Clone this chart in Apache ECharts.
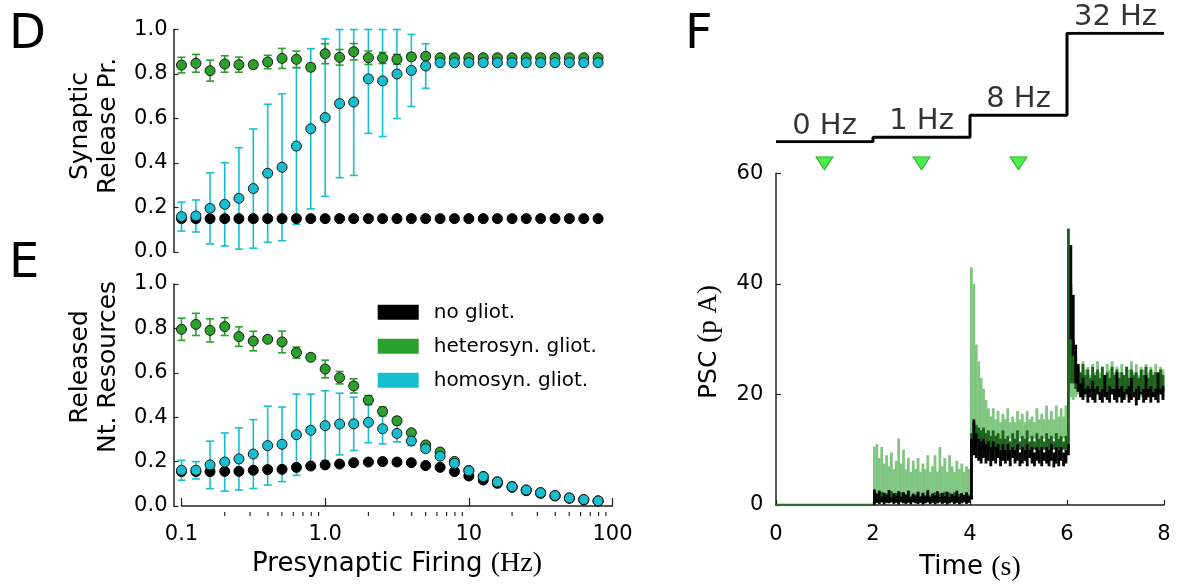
<!DOCTYPE html>
<html><head><meta charset="utf-8">
<script src="https://cdn.jsdelivr.net/npm/echarts@6/dist/echarts.min.js"></script>
<style>html,body{margin:0;padding:0;background:#fff}#c{width:1179px;height:584px}</style>
</head><body><div id="c"></div>
<script>
// ---------- Panels D & E : values vs presynaptic firing rate ----------
const rates = [0.1,0.126,0.158,0.2,0.251,0.316,0.398,0.501,0.631,0.794,1.0,1.26,1.58,2.0,2.51,3.16,3.98,5.01,6.31,7.94,10,12.6,15.8,20,25.1,31.6,39.8,50.1,63.1,79.4];
const seriesNames = ['no gliot.','heterosyn. gliot.','homosyn. gliot.'];

const relPrNone = [0.15,0.15,0.15,0.15,0.15,0.15,0.15,0.15,0.15,0.15,0.15,0.15,0.15,0.15,0.15,0.15,0.15,0.15,0.15,0.15,0.15,0.15,0.15,0.15,0.15,0.15,0.15,0.15,0.15,0.15];
const relPrHetero = [0.840,0.848,0.815,0.845,0.842,0.842,0.854,0.870,0.866,0.830,0.891,0.875,0.900,0.873,0.872,0.866,0.877,0.880,0.873,0.873,0.873,0.873,0.873,0.873,0.873,0.873,0.873,0.873,0.873,0.873];
const relPrHeteroErr = [0.035,0.04,0.047,0.037,0.034,0.015,0.03,0.045,0.037,0.015,0.045,0.035,0.037,0.03,0.025,0.022,0.015,0.012,0.008,0.006,0.005,0.005,0.004,0.004,0.004,0.003,0.003,0.003,0.003,0.003];
const relPrHomo = [0.159,0.162,0.196,0.214,0.241,0.285,0.354,0.381,0.476,0.554,0.604,0.667,0.674,0.778,0.769,0.800,0.816,0.836,0.851,0.851,0.851,0.851,0.851,0.851,0.851,0.851,0.851,0.851,0.851,0.851];
const relPrHomoErr = [0.065,0.072,0.16,0.187,0.228,0.268,0.31,0.33,0.352,0.36,0.354,0.333,0.33,0.245,0.25,0.2,0.162,0.1,0.01,0.006,0.005,0.005,0.004,0.004,0.004,0.003,0.003,0.003,0.003,0.003];

const ntNone = [0.155,0.155,0.155,0.156,0.156,0.161,0.164,0.165,0.174,0.180,0.185,0.189,0.195,0.198,0.200,0.198,0.195,0.182,0.174,0.155,0.135,0.117,0.102,0.084,0.069,0.057,0.045,0.035,0.027,0.022];
const ntHetero = [0.796,0.818,0.791,0.808,0.763,0.743,0.751,0.739,0.691,0.670,0.617,0.578,0.541,0.477,0.426,0.384,0.330,0.275,0.243,0.201,0.160,0.133,0.109,0.088,0.072,0.060,0.047,0.036,0.029,0.023];
const ntHeteroErr = [0.05,0.05,0.052,0.04,0.044,0.044,0.01,0.049,0.025,0.015,0.04,0.028,0.032,0.02,0.02,0.015,0.01,0.008,0.006,0.005,0.004,0.003,0.003,0.003,0.003,0.003,0.003,0.003,0.003,0.003];
const ntHomo = [0.161,0.161,0.185,0.198,0.212,0.234,0.272,0.278,0.321,0.341,0.362,0.369,0.370,0.377,0.348,0.327,0.293,0.258,0.224,0.192,0.159,0.132,0.108,0.087,0.072,0.060,0.047,0.036,0.029,0.023];
const ntHomoErr = [0.045,0.039,0.107,0.131,0.14,0.155,0.178,0.168,0.183,0.163,0.157,0.139,0.12,0.092,0.068,0.038,0.02,0.012,0.008,0.005,0.004,0.003,0.003,0.003,0.003,0.003,0.003,0.003,0.003,0.003];

const rateTickLabels = ['0.1','1.0','10','100'];
const minorRateTicks = [0.2,0.3,0.4,0.5,0.6,0.7,0.8,0.9,2,3,4,5,6,7,8,9,20,30,40,50,60,70,80,90];
const fracTickLabels = ['0.0','0.2','0.4','0.6','0.8','1.0'];

// ---------- Panel F : PSC traces ----------
const timeTickLabels = ['0','2','4','6','8'];
const pscTickLabels = ['0','20','40','60'];
const traceStart = 2, traceStep = 0.05;
const baselineTimes = [0, 2];
const baselineValues = [0, 0];

const lightHi = [10.5,11,8.5,10.5,7.5,9,7,9.5,6.5,8,12,7.5,10,6.5,8.5,6,8,6.5,8.5,6,7.5,6.5,9,6,7,9,6,10.5,7,8.5,6,9,7,6,8,6.5,7.5,6,7,6.5,
 43,40,29,26,23,21,19,17.5,16,17.5,15.5,17,15,16.5,15.5,17.5,15,16,15,17,15.5,16.5,15,17,15.5,16,15,17.5,15.5,16.5,15.5,18,15.5,17,15.5,18,16,17.5,16,18,
 49,30,25,24,25.5,24,26,24.5,25,23.5,25.5,24,26,24,25,23.5,25.5,24.5,26,24,25,24,25.5,23.5,25,24.5,26,24,25.5,23.5,25,24.5,25.5,24,25,24,25.5,23.5,25,24.5];
const lightLo = [0,1,1,1,1,1,1,1,1,1,1,1,1,1,1,1,1,1,1,1,1,1,1,1,1,1,1,1,1,1,1,1,1,1,1,1,1,1,1,1,
 5,12,12,12,12,12,12,12,12,12,12,12,12,12,12,12,12,12,12,12,12,12,12,12,12,12,12,12,12,12,12,12,12,12,12,12,12,12,12,12,
 16,19.5,19,19.5,20,19.5,20.5,19.5,20,19.5,20.5,19.5,20,19.5,20.5,20,19.5,20.5,20,19.5,20,20.5,19.5,20,19.5,20.5,20,19.5,20.5,20,19.5,20,20.5,19.5,20,20.5,19.5,20,20.5,19.5];
const darkHi = [2.5,2.2,1.8,2.4,1.6,2.1,1.9,2.5,1.7,2.2,1.8,2.3,1.6,2.0,2.4,1.7,2.1,1.9,2.3,1.6,2.2,1.8,2.4,1.7,2.0,2.3,1.6,2.1,1.9,2.4,1.7,2.2,1.8,2.3,1.6,2.0,2.2,1.7,2.1,1.9,
 13,15,14.5,14,13.5,14,13,13.5,12.5,13.5,12.5,13,12,13.5,12,12.5,11.5,13,12,13.5,11.5,12.5,12,13.5,11.5,12.5,11.5,13,12,12.5,11.5,13,12,12.5,11.5,13,12,12.5,11.5,12.5,
 50,40,30,27,25,24,25.5,23.5,24.5,23,25,23.5,24.5,23,25,23.5,24,23,25,23.5,24.5,23,24,23.5,25,23,24.5,23.5,24,23,24.5,23.5,25,23,24.5,23.5,24,23,24.5,23.5];
const darkLo = [0,0.5,0.5,0.5,0.5,0.5,0.5,0.5,0.5,0.5,0.5,0.5,0.5,0.5,0.5,0.5,0.5,0.5,0.5,0.5,0.5,0.5,0.5,0.5,0.5,0.5,0.5,0.5,0.5,0.5,0.5,0.5,0.5,0.5,0.5,0.5,0.5,0.5,0.5,0.5,
 1,10,10,10,10,10,10,10,10,10,10,10,10,10,10,10,10,10,10,10,10,10,10,10,10,10,10,10,10,10,10,10,10,10,10,10,10,10,10,10,
 10,22,22,21,20.5,20.5,20.5,20.5,20.5,20.5,20.5,20.5,20.5,20.5,20.5,20.5,20.5,20.5,20.5,20.5,20.5,20.5,20.5,20.5,20.5,20.5,20.5,20.5,20.5,20.5,20.5,20.5,20.5,20.5,20.5,20.5,20.5,20.5,20.5,20.5];
const blackHi = [2.8,2.0,2.6,1.5,2.2,1.8,2.7,1.4,2.1,1.7,2.5,1.5,2.3,1.8,2.6,1.4,2.0,1.7,2.4,1.5,2.2,1.6,2.7,1.4,2.1,1.8,2.5,1.5,2.2,1.6,2.4,1.4,2.0,1.7,2.6,1.5,2.1,1.8,2.3,1.6,
 12,15.5,13,12,11.5,12,11,11.5,10.5,11.5,10.5,11,10,11,10,11,10,10.5,10,11,9.5,10.5,10,11,10,10.5,9.5,10.5,10,10.5,9.5,10.5,10,11,9.5,10.5,10,10.5,9.5,10,
 11,47,38,29,25.5,22,23,21,21.5,21,22.5,21,21.5,20.5,21,23.5,20.5,21.5,21,21,24,21,21.5,20.5,21,21.5,23,20.5,21,21.5,20.5,21,23.5,21,21.5,20.5,21,24,21,21.5];
const blackLo = [0,0.4,0.2,0.5,0.1,0.4,0.3,0.5,0.2,0.4,0.1,0.5,0.3,0.2,0.4,0.1,0.5,0.3,0.2,0.4,0.1,0.3,0.5,0.2,0.4,0.1,0.3,0.5,0.2,0.4,0.1,0.3,0.5,0.2,0.4,0.1,0.3,0.5,0.2,0.4,
 1,9,8.5,8,7.5,8.5,7.5,8,7,8,7.5,8.5,7,8,7.5,8,7,8.5,7.5,8,7,7.5,8,7,8.5,7.5,7,8,7.5,7,8,7.5,7,8,6.8,7.5,7,8,7,7.5,
 9,30,27,22,20.5,19.5,19,20,18.5,19.5,19,18.5,20,19,18.5,19.5,19,18.5,20,19,18.5,19.5,18.5,19,20,18.5,19,19.5,18,19,20,18.5,19,19.5,18.5,19.5,19,18.5,20,19];

// stimulation protocol (top staircase)
const stimTimes = [0,2,4,6,8];
const stimLevels = [0,1,6,24.5];
const stimLabels = ['0 Hz','1 Hz','8 Hz','32 Hz'];
const gliotTimes = [1,3,5];
const gliotLevel = 61.8;

// ---------- build ----------
const FONT = '"DejaVu Sans", sans-serif';
const SERIF = '"Liberation Serif", "DejaVu Serif", serif';
const C_GREEN = '#2ca02c', C_CYAN = '#17becf', C_BLACK = '#000000';
const offYDE = 8, offXE = 10, offYF = 7.7, offXF = 13.3;

const pts = (ys) => rates.map((x, i) => [x, ys[i]]);
const errs = (ys, es) => rates.map((x, i) => [x, ys[i] - es[i], Math.min(1, ys[i] + es[i])]);
const traceTimes = lightHi.map((_, i) => +(traceStart + i * traceStep).toFixed(3));
const band = (lo, hi) => traceTimes.map((t, i) => [t, lo[i], hi[i]]);
const stimLine = [];
stimLevels.forEach((lv, i) => { stimLine.push([stimTimes[i], lv]); stimLine.push([stimTimes[i + 1], lv]); });
const stimMid = stimLevels.map((lv, i) => [(stimTimes[i] + stimTimes[i + 1]) / 2, lv]);

function errorBarRender(color) {
  return function (params, api) {
    const x = api.value(0);
    const top = api.coord([x, api.value(2)]);
    const bot = api.coord([x, api.value(1)]);
    const cap = 4;
    const st = { stroke: color, lineWidth: 1.6 };
    return { type: 'group', children: [
      { type: 'line', shape: { x1: top[0], y1: top[1], x2: bot[0], y2: bot[1] }, style: st },
      { type: 'line', shape: { x1: top[0] - cap, y1: top[1], x2: top[0] + cap, y2: top[1] }, style: st },
      { type: 'line', shape: { x1: bot[0] - cap, y1: bot[1], x2: bot[0] + cap, y2: bot[1] }, style: st }
    ]};
  };
}
function bandRender(color) {
  return function (params, api) {
    const t = api.value(0);
    const p0 = api.coord([t, api.value(2)]);
    const p1 = api.coord([t + traceStep, api.value(1)]);
    return { type: 'rect', shape: { x: p0[0], y: p0[1], width: p1[0] - p0[0] + 0.4, height: p1[1] - p0[1] }, style: { fill: color } };
  };
}

const axisLine = { show: true, lineStyle: { color: '#222', width: 1.5 } };
const tickLbl = { color: '#000', fontFamily: FONT, fontSize: 21 };

function fracAxis(gridIndex) {
  return { type: 'value', gridIndex, min: 0, max: 1, interval: 0.2, offset: offYDE,
    axisLine, axisTick: { show: true, inside: true, length: 5, lineStyle: { color: '#222', width: 1.2 } },
    splitLine: { show: false },
    axisLabel: Object.assign({ margin: 6, formatter: v => fracTickLabels[Math.round(v / 0.2)] }, tickLbl) };
}
function scatter(name, xi, data, color, z) {
  return { type: 'scatter', name, xAxisIndex: xi, yAxisIndex: xi, data, symbolSize: 10, clip: false, z,
    itemStyle: { color, borderColor: color === C_BLACK ? '#000' : '#1a1a1a', borderWidth: 1, opacity: 1 } };
}
function errSeries(xi, data, color) {
  return { type: 'custom', xAxisIndex: xi, yAxisIndex: xi, data, renderItem: errorBarRender(color), silent: true, z: 1, encode: { x: 0, y: [1, 2] } };
}

const option = {
  animation: false,
  backgroundColor: '#fff',
  grid: [
    { left: 181.5, top: 29.5, width: 431, height: 222.5, outerBoundsMode: 'none' },
    { left: 181.5, top: 284, width: 431, height: 222, outerBoundsMode: 'none' },
    { left: 776, top: 173.3, width: 388, height: 331.7, outerBoundsMode: 'none' },
    { left: 776, top: 33.3, width: 388, height: 108.4, outerBoundsMode: 'none' }
  ],
  xAxis: [
    { type: 'log', gridIndex: 0, min: 0.1, max: 100, show: false },
    { type: 'log', gridIndex: 1, min: 0.1, max: 100, offset: offXE, axisLine,
      axisTick: { show: true, inside: true, length: 8, lineStyle: { color: '#222', width: 1.2 } },
      splitLine: { show: false }, minorTick: { show: false },
      axisLabel: Object.assign({ margin: 8, formatter: v => rateTickLabels[Math.round(Math.log10(v)) + 1] }, tickLbl),
      name: '{a|Presynaptic Firing }{b|(Hz)}', nameLocation: 'middle', nameGap: 34,
      nameTextStyle: { rich: { a: { fontFamily: FONT, fontSize: 26, color: '#000' }, b: { fontFamily: SERIF, fontSize: 28, color: '#000' } } } },
    { type: 'value', gridIndex: 2, min: 0, max: 8, interval: 2, offset: offXF, axisLine,
      axisTick: { show: true, inside: true, length: 5, lineStyle: { color: '#222', width: 1.2 } },
      splitLine: { show: false },
      axisLabel: Object.assign({ margin: 6, formatter: v => timeTickLabels[Math.round(v / 2)] }, tickLbl),
      name: '{a|Time }{b|(s)}', nameLocation: 'middle', nameGap: 35,
      nameTextStyle: { rich: { a: { fontFamily: FONT, fontSize: 26, color: '#000' }, b: { fontFamily: SERIF, fontSize: 28, color: '#000' } } } },
    { type: 'value', gridIndex: 3, min: 0, max: 8, show: false }
  ],
  yAxis: [
    fracAxis(0),
    fracAxis(1),
    { type: 'value', gridIndex: 2, min: 0, max: 60, interval: 20, offset: offYF, axisLine,
      axisTick: { show: true, inside: true, length: 5, lineStyle: { color: '#222', width: 1.2 } },
      splitLine: { show: false },
      axisLabel: Object.assign({ margin: 5, formatter: v => pscTickLabels[Math.round(v / 20)] }, tickLbl) },
    { type: 'value', gridIndex: 3, min: 0, max: 24.5, show: false }
  ],
  legend: {
    left: 377.7, top: 302.3, orient: 'vertical', icon: 'rect', itemWidth: 41, itemHeight: 15, itemGap: 14, padding: 0,
    data: seriesNames,
    itemStyle: { borderWidth: 0 },
    textStyle: { fontFamily: FONT, fontSize: 20, color: '#000', lineHeight: 15, padding: [0, 0, 0, 10] }
  },
  graphic: [
    { type: 'text', x: 9, y: 36, style: { text: 'D', font: '48px ' + FONT, fill: '#000', align: 'left', verticalAlign: 'middle' } },
    { type: 'text', x: 9, y: 265, style: { text: 'E', font: '48px ' + FONT, fill: '#000', align: 'left', verticalAlign: 'middle' } },
    { type: 'text', x: 685, y: 36, style: { text: 'F', font: '48px ' + FONT, fill: '#000', align: 'left', verticalAlign: 'middle' } },
    { type: 'text', x: 94, y: 126, rotation: Math.PI / 2, style: { text: 'Synaptic\nRelease Pr.', font: '25px ' + FONT, fill: '#000', align: 'center', verticalAlign: 'middle', lineHeight: 28 } },
    { type: 'text', x: 94, y: 367, rotation: Math.PI / 2, style: { text: 'Released\nNt. Resources', font: '25px ' + FONT, fill: '#000', align: 'center', verticalAlign: 'middle', lineHeight: 28 } },
    { type: 'text', x: 709, y: 342, rotation: Math.PI / 2, style: { text: '{a|PSC }{b|(p A)}', fill: '#000', align: 'center', verticalAlign: 'middle',
        rich: { a: { fontFamily: FONT, fontSize: 25, fill: '#000' }, b: { fontFamily: SERIF, fontSize: 27, fill: '#000' } } } }
  ],
  series: [
    // D
    errSeries(0, errs(relPrHomo, relPrHomoErr), C_CYAN),
    errSeries(0, errs(relPrHetero, relPrHeteroErr), C_GREEN),
    scatter(seriesNames[0], 0, pts(relPrNone), C_BLACK, 3),
    scatter(seriesNames[1], 0, pts(relPrHetero), C_GREEN, 4),
    scatter(seriesNames[2], 0, pts(relPrHomo), C_CYAN, 5),
    // E
    errSeries(1, errs(ntHomo, ntHomoErr), C_CYAN),
    errSeries(1, errs(ntHetero, ntHeteroErr), C_GREEN),
    scatter(seriesNames[0], 1, pts(ntNone), C_BLACK, 3),
    scatter(seriesNames[1], 1, pts(ntHetero), C_GREEN, 4),
    scatter(seriesNames[2], 1, pts(ntHomo), C_CYAN, 5),
    // minor ticks of log axis in E
    { type: 'custom', xAxisIndex: 1, yAxisIndex: 1, silent: true, clip: false, z: 6,
      data: minorRateTicks.map(v => [v, 0]),
      renderItem: (p, api) => { const c = api.coord([api.value(0), 0]); const y = c[1] + offXE;
        return { type: 'line', shape: { x1: c[0], y1: y, x2: c[0], y2: y - 4 }, style: { stroke: '#222', lineWidth: 1.2 } }; } },
    // F traces
    { type: 'custom', xAxisIndex: 2, yAxisIndex: 2, silent: true, data: band(lightLo, lightHi), renderItem: bandRender('#80c680'), encode: { x: 0, y: [1, 2] }, z: 2 },
    { type: 'custom', xAxisIndex: 2, yAxisIndex: 2, silent: true, data: band(darkLo, darkHi), renderItem: bandRender('#1d621d'), encode: { x: 0, y: [1, 2] }, z: 3 },
    { type: 'custom', xAxisIndex: 2, yAxisIndex: 2, silent: true, data: band(blackLo, blackHi), renderItem: bandRender('#050505'), encode: { x: 0, y: [1, 2] }, z: 4 },
    { type: 'line', xAxisIndex: 2, yAxisIndex: 2, silent: true, data: baselineTimes.map((t, i) => [t, baselineValues[i]]), symbol: 'none', z: 5,
      lineStyle: { color: '#2f6a2f', width: 2.5 } },
    { type: 'scatter', xAxisIndex: 2, yAxisIndex: 2, silent: true, clip: false, data: gliotTimes.map(t => [t, gliotLevel]),
      symbol: 'triangle', symbolRotate: 180, symbolSize: [17, 13], itemStyle: { color: '#1ee81e', borderColor: '#0a9a0a', borderWidth: 1 } },
    // stimulation staircase
    { type: 'line', xAxisIndex: 3, yAxisIndex: 3, silent: true, data: stimLine, symbol: 'none', lineStyle: { color: '#000', width: 3 } },
    { type: 'scatter', xAxisIndex: 3, yAxisIndex: 3, silent: true, clip: false, data: stimMid, symbolSize: 0,
      label: { show: true, position: 'top', distance: 1, formatter: p => stimLabels[p.dataIndex], fontFamily: FONT, fontSize: 29, color: '#000' } }
  ]
};
echarts.init(document.getElementById('c'), null, { renderer: 'canvas' }).setOption(option);
</script></body></html>
